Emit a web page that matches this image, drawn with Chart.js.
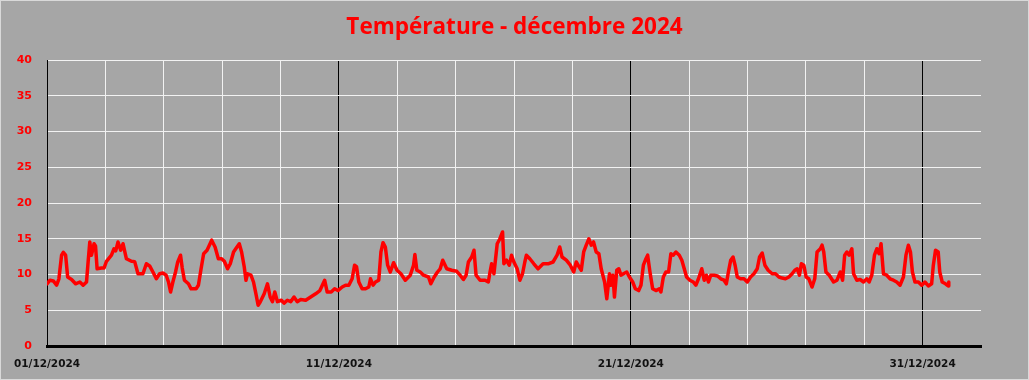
<!DOCTYPE html>
<html>
<head>
<meta charset="utf-8">
<script src="https://cdn.jsdelivr.net/npm/chart.js@4/dist/chart.umd.min.js"></script>
<style>
  html, body { margin: 0; padding: 0; background: #a6a6a6; }
  #wrap { width: 1029px; height: 380px; }
</style>
</head>
<body>
<div id="wrap"><canvas id="myChart"></canvas></div>
<script>
// hours since 01/12/2024 00:00, and temperature (°C)
const hoursA = [0, 2.5, 5.2, 7.9, 9.8, 12.0, 13.4, 15.3, 17.0, 20.2, 23.5, 27.0, 29.7, 32.5, 33.8, 35.2, 36.6, 38.7, 39.9, 41.2,
  44.8, 46.9, 48.9, 53.0, 55.1, 56.5, 58.4, 60.6, 62.5, 65.3, 69.4, 72.1, 74.8, 78.9, 81.7, 84.4, 87.1, 89.9, 92.6, 95.3,
  98.0, 99.9, 101.6, 103.5, 105.7, 107.5, 109.8, 111.2, 113.0, 116.3, 118.5, 122.6];
const tempsA = [8.7, 9.2, 9.1, 8.5, 9.4, 12.7, 13.1, 12.7, 9.65, 9.3, 8.7, 8.95, 8.5, 8.95, 11.75, 14.55, 12.7, 14.3, 14.0, 10.8,
  10.9, 10.9, 11.85, 12.7, 13.6, 13.3, 14.55, 13.4, 14.3, 12.2, 11.85, 11.8, 10.1, 10.1, 11.5, 11.2, 10.35, 9.4, 10.1, 10.2,
  9.9, 8.95, 7.55, 8.95, 10.35, 11.75, 12.7, 10.9, 9.2, 8.7, 8.0, 8.0];

const hoursB = [124.5, 126.7, 128.8, 131.6, 135.4, 138.2, 140.9, 143.6, 145.8, 148.5, 150.7, 153.4, 156.2, 158.1, 160.0, 162.2,
  163.6, 164.9, 167.7, 169.8, 171.8, 173.6, 175.3, 178.6, 181.3, 183.5, 185.4, 187.3, 189.5, 192.7, 194.9, 197.6, 200.4, 203.1,
  205.8, 208.6, 212.7, 216.8, 220.9, 224.4, 228.3, 230.4, 233.7, 236.5, 239.2, 242.7, 245.5];
const tempsB = [8.5, 10.8, 12.9, 13.4, 14.8, 13.85, 12.2, 12.2, 11.85, 10.8, 11.5, 13.15, 13.85, 14.3, 13.15, 11.05,
  9.2, 10.1, 9.9, 8.95, 7.3, 5.7, 6.15, 7.3, 8.7, 6.85, 6.2, 7.55, 6.2, 6.4, 6.0, 6.4, 6.2, 6.85,
  6.2, 6.5, 6.4, 6.85, 7.3, 7.75, 9.2, 7.55, 7.55, 8.0, 7.75, 8.25, 8.5];

const hoursC = [248.2, 250.9, 252.9, 254.5, 256.4, 259.1, 261.9, 264.6, 266.0, 268.1, 270.1, 272.8, 274.6, 276.3, 278.2, 280.1,
  282.3, 285.0, 287.8, 291.0, 294.6, 298.7, 301.4, 302.5, 304.1, 306.9, 309.6, 313.7, 315.6, 318.4, 321.1, 323.3, 325.4, 328.7,
  332.8, 336.9, 339.7, 342.4, 344.6, 346.5, 349.2, 351.1, 352.8, 356.1, 360.2, 362.9, 364.3, 365.6, 367.5];
const tempsC = [8.5, 9.4, 11.3, 11.1, 8.95, 8.0, 8.0, 8.25, 9.4, 8.5, 8.95, 9.2, 13.15, 14.45, 13.85, 11.3,
  10.35, 11.65, 10.6, 10.1, 9.2, 9.9, 11.3, 12.8, 10.6, 10.35, 9.9, 9.65, 8.7, 9.65, 10.35, 10.8, 12.0, 10.8,
  10.6, 10.45, 9.9, 9.3, 9.9, 11.75, 12.45, 13.4, 9.9, 9.2, 9.2, 8.95, 10.35, 11.5, 10.1];

const hoursD = [370.2, 372.4, 374.6, 375.7, 377.9, 380.1, 382.0, 383.9, 386.6, 388.8, 391.0, 392.9, 394.2, 397.0, 400.3, 403.8,
  407.9, 412.0, 416.1, 419.4, 421.6, 423.5, 427.0, 430.3, 433.1, 435.2, 437.4, 439.3, 441.3, 443.4, 445.6, 447.5, 449.4, 451.6,
  453.8, 455.7, 458.5, 460.3, 462.5, 463.8, 465.3, 466.6, 468.5, 470.2, 472.0, 474.0, 476.7, 478.9, 481.6, 483.8, 486.5, 488.4, 490.4];
const tempsD = [14.3, 15.0, 15.95, 11.5, 12.0, 11.3, 12.7, 11.75, 10.8, 9.2, 10.1, 11.75, 12.7, 12.2, 11.5, 10.8,
  11.5, 11.5, 11.75, 12.7, 13.85, 12.45, 12.0, 11.3, 10.35, 11.75, 11.1, 10.6, 13.15, 14.1, 15.0, 14.1, 14.55, 13.15,
  12.9, 10.8, 8.95, 6.6, 10.1, 8.5, 9.9, 6.85, 10.6, 10.8, 9.9, 10.1, 10.35, 9.65, 8.95, 8.0, 7.75, 8.5, 11.3];

const hoursE = [492.5, 493.9, 495.8, 498.0, 500.7, 503.5, 504.8, 506.8, 508.9, 511.1, 513.0, 515.0, 517.1, 519.9, 522.0, 524.0,
  525.9, 528.6, 531.4, 533.5, 535.7, 538.4, 540.4, 542.2, 543.9, 545.8, 548.6, 551.3, 554.0, 556.7, 558.6, 560.3, 562.2, 564.1,
  565.8, 567.6, 570.3, 573.1, 575.8, 578.5, 581.3, 584.0, 585.9, 588.1, 590.3, 593.0, 596.3, 599.0, 601.8, 604.5, 607.2, 610.0,
  612.7, 614.9];
const tempsE = [12.2, 12.7, 10.35, 8.0, 7.75, 8.0, 7.55, 9.65, 10.35, 10.35, 12.9, 12.7, 13.15, 12.7, 12.0, 10.8,
  9.65, 9.2, 8.95, 8.5, 9.4, 10.8, 9.2, 9.9, 8.95, 9.9, 9.9, 9.8, 9.4, 9.2, 8.7, 10.35, 12.0, 12.45,
  11.3, 9.65, 9.4, 9.4, 8.95, 9.65, 10.1, 10.8, 12.45, 13.0, 11.3, 10.6, 10.1, 10.1, 9.65, 9.5, 9.4, 9.65,
  10.1, 10.6];

const hoursF = [616.8, 618.7, 620.3, 622.3, 624.2, 626.4, 629.1, 631.3, 633.2, 635.9, 637.3, 638.7, 640.5, 643.2, 646.8, 649.6,
  652.3, 654.2, 655.9, 657.7, 659.6, 661.8, 663.2, 665.9, 668.6, 671.4, 674.1, 676.0, 678.2, 680.4, 682.3, 684.2, 685.8, 687.8,
  690.5, 693.2, 696.0, 698.7, 701.4, 704.2, 706.3, 708.3, 710.0, 711.6, 713.7, 716.5, 719.2, 721.9, 724.7, 727.4, 728.8, 730.6,
  732.8, 734.1, 736.1, 738.8, 741.0, 741.5];
const tempsF = [10.8, 9.9, 11.5, 11.3, 9.65, 9.4, 8.25, 9.4, 13.15, 13.6, 14.1, 13.15, 10.35, 9.9, 8.95, 9.2,
  10.35, 9.2, 12.7, 13.15, 12.7, 13.6, 10.1, 9.2, 9.3, 8.95, 9.4, 8.95, 9.9, 12.7, 13.6, 12.9, 14.3, 10.1,
  9.9, 9.4, 9.2, 8.95, 8.5, 9.65, 12.7, 14.1, 13.15, 10.35, 8.95, 8.95, 8.5, 8.95, 8.4, 8.7, 11.3, 13.4,
  13.15, 10.35, 8.95, 8.7, 8.4, 8.95];

const hours = [].concat(hoursA, hoursB, hoursC, hoursD, hoursE, hoursF);
const temps = [].concat(tempsA, tempsB, tempsC, tempsD, tempsE, tempsF);

// x axis ticks every 2 days; labelled ones every 10 days
const tickLabels = { 0: "01/12/2024", 240: "11/12/2024", 480: "21/12/2024", 720: "31/12/2024" };

const points = hours.map((h, i) => ({ x: h, y: temps[i] }));

const bgPlugin = {
  id: "bg",
  beforeDraw(chart) {
    const c = chart.ctx;
    c.save();
    c.fillStyle = "#a6a6a6";
    c.fillRect(0, 0, chart.width, chart.height);
    c.strokeStyle = "#d9d9d9";
    c.lineWidth = 1;
    c.strokeRect(0.5, 0.5, chart.width - 1, chart.height - 1);
    c.restore();
  }
};

const config = {
  type: "line",
  data: {
    datasets: [{
      label: "Température",
      data: points,
      borderColor: "#ff0000",
      backgroundColor: "#ff0000",
      borderWidth: 3.5,
      borderJoinStyle: "round",
      borderCapStyle: "round",
      pointRadius: 0,
      tension: 0,
    }]
  },
  options: {
    responsive: true,
    maintainAspectRatio: false,
    animation: false,
    plugins: {
      legend: { display: false },
      tooltip: { enabled: false },
      title: {
        display: true,
        text: "Température - décembre 2024",
        color: "#ff0000",
        font: { family: "Open Sans", size: 22.5, weight: "bold", lineHeight: 1.2 },
        padding: { top: 14, bottom: 19 }
      }
    },
    scales: {
      x: {
        type: "linear",
        min: 0,
        max: 768,
        afterFit(scale) { scale.height = 34; },
        border: { color: "#000", width: 3 },
        grid: {
          drawTicks: false,
          color(ctx) {
            const v = ctx.tick.value;
            if (v === 768) return "rgba(0,0,0,0)";
            return v % 240 === 0 ? "#000" : "#f2f2f2";
          },
          lineWidth: 1
        },
        ticks: {
          stepSize: 48,
          autoSkip: false,
          maxRotation: 0,
          padding: 12,
          color: "#111",
          font: { family: "DejaVu Sans", size: 10.5, weight: "bold" },
          callback: (v) => tickLabels[v] || ""
        }
      },
      y: {
        min: 0,
        max: 40,
        afterFit(scale) { scale.width = 47; },
        border: { color: "#000", width: 1 },
        grid: { drawTicks: false, color: "#f2f2f2", lineWidth: 1 },
        ticks: {
          stepSize: 5,
          padding: 15,
          color: "#ff0000",
          font: { family: "DejaVu Sans", size: 11, weight: "bold" }
        }
      },
      // empty right-hand axis, only to leave the margin right of the plot
      yRight: {
        position: "right",
        min: 0,
        max: 40,
        afterFit(scale) { scale.width = 48; },
        border: { display: false },
        grid: { display: false, drawTicks: false },
        ticks: { display: false }
      }
    }
  },
  plugins: [bgPlugin]
};

let myChart = new Chart(document.getElementById("myChart"), config);
</script>
</body>
</html>
